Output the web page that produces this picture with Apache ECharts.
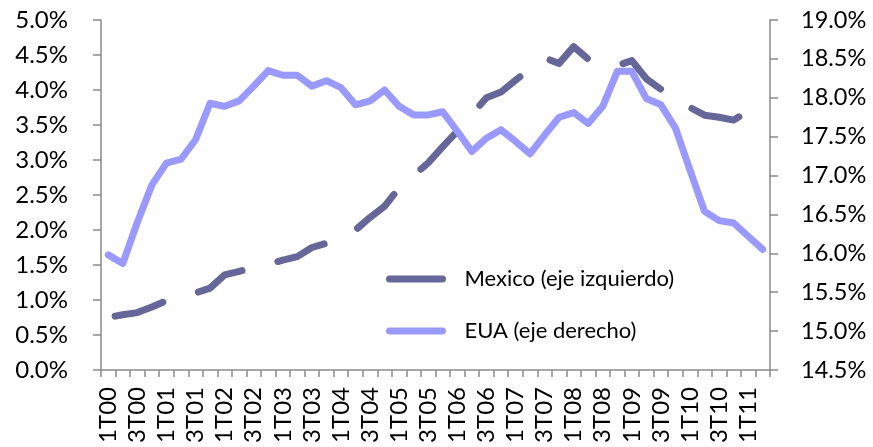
<!DOCTYPE html>
<html>
<head>
<meta charset="utf-8">
<script src="https://cdn.jsdelivr.net/npm/echarts@6/dist/echarts.min.js"></script>
<style>
html,body{margin:0;padding:0;background:#fff;}
#chart{width:873px;height:447px;}
</style>
</head>
<body>
<div id="chart"></div>
<script>
const categories = ['1T00','2T00','3T00','4T00','1T01','2T01','3T01','4T01','1T02','2T02','3T02','4T02',
  '1T03','2T03','3T03','4T03','1T04','2T04','3T04','4T04','1T05','2T05','3T05','4T05',
  '1T06','2T06','3T06','4T06','1T07','2T07','3T07','4T07','1T08','2T08','3T08','4T08',
  '1T09','2T09','3T09','4T09','1T10','2T10','3T10','4T10','1T11','2T11'];

const mexicoName = 'Mexico (eje izquierdo)';
const euaName = 'EUA (eje derecho)';

// Mexico, percent (left axis)
const mexico = [0.75,0.79,0.82,0.90,0.99,1.04,1.10,1.17,1.36,1.41,1.46,1.51,
  1.57,1.62,1.75,1.81,1.90,2.00,2.18,2.34,2.60,2.78,2.96,3.19,
  3.41,3.65,3.89,3.97,4.14,4.30,4.46,4.38,4.62,4.44,4.40,4.35,
  4.42,4.16,4.01,3.88,3.75,3.64,3.61,3.57,3.70,null];

// EUA, percent (right axis)
const eua = [15.98,15.87,16.40,16.88,17.16,17.21,17.46,17.93,17.89,17.96,18.15,18.35,
  18.29,18.29,18.15,18.22,18.13,17.91,17.96,18.10,17.89,17.78,17.78,17.82,
  17.57,17.31,17.48,17.59,17.44,17.28,17.52,17.75,17.81,17.67,17.89,18.34,
  18.34,17.99,17.91,17.61,17.07,16.54,16.42,16.39,16.22,16.05];

const leftAxis = {min: 0, max: 5, interval: 0.5};
const rightAxis = {min: 14.5, max: 19, interval: 0.5};

const FONT = 'Lato';
const axisColor = '#8a8a8a';
const pct = v => v.toFixed(1) + '%';

const chart = echarts.init(document.getElementById('chart'), null, {renderer: 'canvas'});
chart.setOption({
  animation: false,
  backgroundColor: '#ffffff',
  grid: {left: 101, right: 103, top: 20, bottom: 77, containLabel: false},
  legend: {
    orient: 'vertical',
    left: 386,
    top: 268,
    padding: 0,
    itemWidth: 53,
    itemHeight: 22,
    itemGap: 30,
    data: [mexicoName, euaName],
    itemStyle: {opacity: 0},
    lineStyle: {width: 7, type: 'solid', cap: 'round', opacity: 1},
    textStyle: {fontFamily: FONT, fontSize: 22, color: '#000', padding: [0, 0, 0, 17]}
  },
  xAxis: {
    type: 'category',
    data: categories,
    boundaryGap: true,
    axisLine: {show: true, lineStyle: {color: axisColor, width: 1.5}},
    axisTick: {show: true, interval: 0, length: 7, alignWithLabel: false, lineStyle: {color: axisColor, width: 1.5}},
    axisLabel: {interval: 1, rotate: 90, margin: 17, fontFamily: FONT, fontSize: 24, color: '#000'},
    splitLine: {show: false}
  },
  yAxis: [
    {
      type: 'value', position: 'left',
      min: leftAxis.min, max: leftAxis.max, interval: leftAxis.interval,
      axisLine: {show: true, lineStyle: {color: axisColor, width: 1.5}},
      axisTick: {show: true, length: 8, lineStyle: {color: axisColor, width: 1.5}},
      axisLabel: {formatter: pct, margin: 33, fontFamily: FONT, fontSize: 24, color: '#000'},
      splitLine: {show: false}
    },
    {
      type: 'value', position: 'right',
      min: rightAxis.min, max: rightAxis.max, interval: rightAxis.interval,
      axisLine: {show: true, lineStyle: {color: axisColor, width: 1.5}},
      axisTick: {show: true, length: 8, lineStyle: {color: axisColor, width: 1.5}},
      axisLabel: {formatter: pct, margin: 31, fontFamily: FONT, fontSize: 23.5, color: '#000'},
      splitLine: {show: false}
    }
  ],
  series: [
    {
      name: mexicoName, type: 'line', yAxisIndex: 0, data: mexico,
      showSymbol: false, symbol: 'none', connectNulls: false,
      lineStyle: {color: '#666699', width: 7, type: [50, 37], dashOffset: -7, cap: 'round', join: 'round'},
      itemStyle: {color: '#666699'}
    },
    {
      name: euaName, type: 'line', yAxisIndex: 1, data: eua,
      showSymbol: false, symbol: 'none',
      lineStyle: {color: '#9999FF', width: 7, type: 'solid', cap: 'round', join: 'round'},
      itemStyle: {color: '#9999FF'}
    }
  ]
});
</script>
</body>
</html>
